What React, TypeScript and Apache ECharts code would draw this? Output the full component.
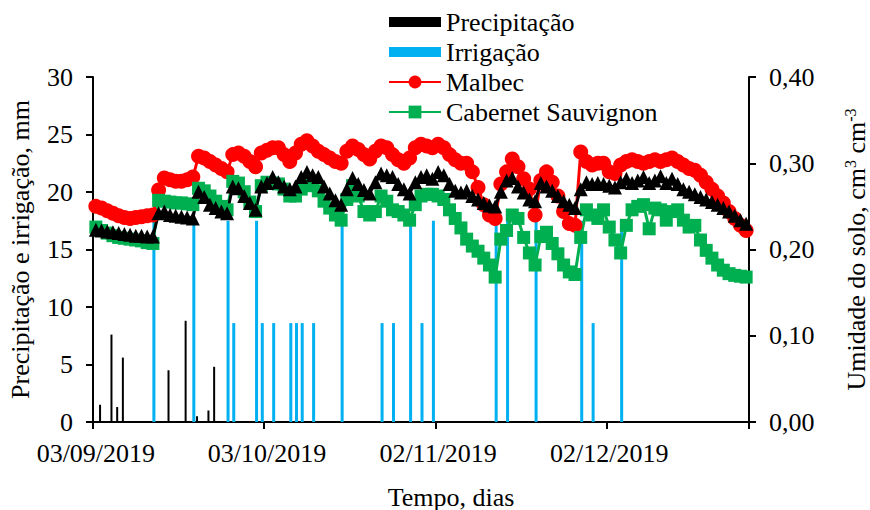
import React, { useEffect, useRef } from "react";
import * as echarts from "echarts";

// ---- Data ----
const START_DATE = [2019, 8, 3]; // 03/09/2019
const N_DAYS = 115;

const precipDays = [1, 3, 4, 5, 13, 16, 18, 20, 21];
const precipMm = [1.5, 7.6, 1.3, 5.6, 4.5, 8.8, 0.5, 1.0, 4.8];

const irrigDays = [10, 17, 23, 24, 28, 29, 31, 34, 35, 36, 38, 43, 50, 52, 55, 57, 59, 70, 72, 77, 85, 87, 92];
const irrigMm = [17.5, 17.5, 17.5, 8.6, 17.5, 8.6, 8.6, 8.6, 8.6, 8.6, 8.6, 17.5, 8.6, 8.6, 17.5, 8.6, 17.5, 17.5, 17.5, 17.5, 17.5, 8.6, 17.5];

const malbec = [
  0.250, 0.248, 0.245, 0.242, 0.239, 0.237, 0.236, 0.237, 0.238, 0.239,
  0.240, 0.269, 0.283, 0.281, 0.279, 0.279, 0.281, 0.284, 0.308, 0.306,
  0.302, 0.298, 0.294, 0.290, 0.310, 0.312, 0.308, 0.302, 0.296, 0.312,
  0.315, 0.318, 0.318, 0.310, 0.302, 0.312, 0.322, 0.326, 0.320, 0.314,
  0.310, 0.306, 0.302, 0.300, 0.314, 0.320, 0.316, 0.310, 0.305, 0.314,
  0.320, 0.318, 0.310, 0.304, 0.300, 0.306, 0.318, 0.322, 0.320, 0.318,
  0.322, 0.318, 0.310, 0.304, 0.300, 0.300, 0.290, 0.272, 0.252, 0.240,
  0.236, 0.276, 0.290, 0.305, 0.296, 0.282, 0.270, 0.240, 0.280, 0.290,
  0.278, 0.262, 0.244, 0.230, 0.228, 0.313, 0.302, 0.298, 0.300, 0.300,
  0.290, 0.288, 0.298, 0.302, 0.304, 0.302, 0.300, 0.302, 0.304, 0.302,
  0.304, 0.306, 0.302, 0.298, 0.294, 0.292, 0.286, 0.278, 0.270, 0.262,
  0.254, 0.244, 0.236, 0.228, 0.222,
];

const cabernet = [
  0.226, 0.222, 0.219, 0.216, 0.214, 0.213, 0.212, 0.211, 0.210, 0.208,
  0.207, 0.257, 0.256, 0.255, 0.254, 0.254, 0.253, 0.252, 0.271, 0.268,
  0.262, 0.256, 0.250, 0.246, 0.279, 0.277, 0.267, 0.255, 0.244, 0.274,
  0.278, 0.277, 0.276, 0.270, 0.262, 0.262, 0.270, 0.276, 0.274, 0.268,
  0.256, 0.248, 0.240, 0.234, 0.258, 0.274, 0.262, 0.244, 0.240, 0.244,
  0.262, 0.256, 0.246, 0.244, 0.240, 0.234, 0.252, 0.262, 0.264, 0.264,
  0.262, 0.258, 0.246, 0.236, 0.225, 0.212, 0.204, 0.198, 0.190, 0.182,
  0.168, 0.212, 0.222, 0.240, 0.236, 0.214, 0.196, 0.182, 0.215, 0.220,
  0.207, 0.195, 0.182, 0.174, 0.171, 0.214, 0.246, 0.240, 0.236, 0.246,
  0.226, 0.211, 0.196, 0.228, 0.246, 0.250, 0.252, 0.224, 0.248, 0.246,
  0.234, 0.244, 0.246, 0.234, 0.226, 0.228, 0.211, 0.199, 0.190, 0.182,
  0.176, 0.172, 0.170, 0.169, 0.168,
];

const thirdSeries = [
  0.223, 0.222, 0.221, 0.220, 0.219, 0.218, 0.217, 0.216, 0.216, 0.215,
  0.215, 0.242, 0.244, 0.240, 0.239, 0.238, 0.237, 0.236, 0.267, 0.261,
  0.252, 0.248, 0.244, 0.242, 0.273, 0.271, 0.262, 0.254, 0.246, 0.273,
  0.277, 0.284, 0.278, 0.273, 0.270, 0.273, 0.284, 0.290, 0.286, 0.284,
  0.273, 0.265, 0.257, 0.252, 0.270, 0.283, 0.276, 0.269, 0.265, 0.278,
  0.288, 0.286, 0.284, 0.276, 0.270, 0.265, 0.278, 0.284, 0.286, 0.282,
  0.290, 0.286, 0.276, 0.268, 0.266, 0.268, 0.262, 0.258, 0.254, 0.251,
  0.250, 0.267, 0.280, 0.283, 0.273, 0.266, 0.258, 0.256, 0.277, 0.273,
  0.268, 0.262, 0.256, 0.252, 0.248, 0.270, 0.278, 0.276, 0.277, 0.276,
  0.274, 0.272, 0.278, 0.282, 0.277, 0.280, 0.284, 0.277, 0.280, 0.285,
  0.277, 0.282, 0.276, 0.270, 0.267, 0.264, 0.261, 0.258, 0.255, 0.252,
  0.248, 0.244, 0.239, 0.234, 0.230,
];

const leftTicks = { min: 0, max: 30, interval: 5 };
const rightTicks = { min: 0, max: 0.4, interval: 0.1 };

const FONT = "Liberation Serif";

function pad(n: number) {
  return n < 10 ? "0" + n : String(n);
}

export default function App() {
  const ref = useRef<HTMLDivElement>(null);

  useEffect(() => {
    if (!ref.current) return;
    const chart = echarts.init(ref.current, undefined, { renderer: "svg" });

    const dates: string[] = [];
    for (let i = 0; i < N_DAYS; i++) {
      const d = new Date(START_DATE[0], START_DATE[1], START_DATE[2] + i);
      dates.push(pad(d.getDate()) + "/" + pad(d.getMonth() + 1) + "/" + d.getFullYear());
    }
    const precip: (number | string)[] = dates.map(() => "-");
    precipDays.forEach((d, i) => (precip[d] = precipMm[i]));
    const irrig: (number | string)[] = dates.map(() => "-");
    irrigDays.forEach((d, i) => (irrig[d] = irrigMm[i]));

    const barIcon = "path://M0,0 M0,3 L52,3 L52,13 L0,13 Z M52,16";

    chart.setOption({
      animation: false,
      backgroundColor: "#ffffff",
      textStyle: { fontFamily: FONT, color: "#000" },
      grid: {
        left: 93,
        right: 121,
        top: 77,
        bottom: 88,
        containLabel: false,
        outerBoundsMode: "none",
      },
      legend: {
        orient: "vertical",
        left: 383,
        top: 4,
        itemWidth: 52,
        itemHeight: 16,
        itemGap: 4,
        textStyle: { fontFamily: FONT, fontSize: 26, color: "#000" },
        data: [
          { name: "Precipitação", icon: barIcon },
          { name: "Irrigação", icon: barIcon },
          { name: "Malbec" },
          { name: "Cabernet Sauvignon" },
        ],
      },
      xAxis: {
        type: "category",
        data: dates,
        boundaryGap: true,
        axisLine: { show: true, lineStyle: { color: "#000", width: 2 } },
        axisTick: { show: true, interval: 29, length: 7, lineStyle: { color: "#000", width: 2 } },
        axisLabel: { interval: 29, fontFamily: FONT, fontSize: 26, color: "#000", margin: 18 },
        name: "Tempo, dias",
        nameLocation: "middle",
        nameGap: 62,
        nameTextStyle: { fontFamily: FONT, fontSize: 26, color: "#000", padding: [0, 0, 0, 60] },
        splitLine: { show: false },
      },
      yAxis: [
        {
          type: "value",
          ...leftTicks,
          position: "left",
          axisLine: { show: true, lineStyle: { color: "#000", width: 2 } },
          axisTick: { show: true, length: 7, lineStyle: { color: "#000", width: 2 } },
          axisLabel: { fontFamily: FONT, fontSize: 26, color: "#000", margin: 20 },
          splitLine: { show: false },
          name: "Precipitação e irrigação, mm",
          nameLocation: "middle",
          nameRotate: 90,
          nameGap: 60,
          nameTextStyle: { fontFamily: FONT, fontSize: 26, color: "#000" },
        },
        {
          type: "value",
          ...rightTicks,
          position: "right",
          axisLine: { show: true, lineStyle: { color: "#000", width: 2 } },
          axisTick: { show: true, length: 7, lineStyle: { color: "#000", width: 2 } },
          axisLabel: {
            fontFamily: FONT,
            fontSize: 26,
            color: "#000",
            margin: 20,
            formatter: (v: number) => v.toFixed(2).replace(".", ","),
          },
          splitLine: { show: false },
          name: "{a|Umidade do solo, cm}{s|3}{a| cm}{s|-3}",
          nameLocation: "middle",
          nameRotate: 90,
          nameGap: 93,
          nameTextStyle: {
            fontFamily: FONT,
            fontSize: 26,
            color: "#000",
            rich: {
              a: { fontFamily: FONT, fontSize: 26, color: "#000" },
              s: { fontFamily: FONT, fontSize: 16, color: "#000", padding: [0, 0, 12, 0] },
            },
          },
        },
      ],
      series: [
        {
          name: "Precipitação",
          type: "bar",
          yAxisIndex: 0,
          data: precip,
          barWidth: 2,
          barGap: "0%",
          itemStyle: { color: "#000000" },
        },
        {
          name: "Irrigação",
          type: "bar",
          yAxisIndex: 0,
          data: irrig,
          barWidth: 3,
          barGap: "0%",
          itemStyle: { color: "#00B0F0" },
        },
        {
          name: "Malbec",
          type: "line",
          yAxisIndex: 1,
          data: malbec,
          symbol: "circle",
          symbolSize: 15,
          showAllSymbol: true,
          itemStyle: { color: "#FF0000" },
          lineStyle: { color: "#FF0000", width: 3 },
        },
        {
          name: "Cabernet Sauvignon",
          type: "line",
          yAxisIndex: 1,
          data: cabernet,
          symbol: "rect",
          symbolSize: 13,
          showAllSymbol: true,
          itemStyle: { color: "#00B050" },
          lineStyle: { color: "#00B050", width: 3 },
        },
        {
          name: "Série 3",
          type: "line",
          yAxisIndex: 1,
          data: thirdSeries,
          symbol: "triangle",
          symbolSize: 14,
          showAllSymbol: true,
          itemStyle: { color: "#000000" },
          lineStyle: { color: "#000000", width: 3 },
        },
      ],
    });

    return () => chart.dispose();
  }, []);

  return (
    <div
      ref={ref}
      style={{ position: "fixed", left: 0, top: 0, width: 870, height: 510, background: "#fff" }}
    />
  );
}
